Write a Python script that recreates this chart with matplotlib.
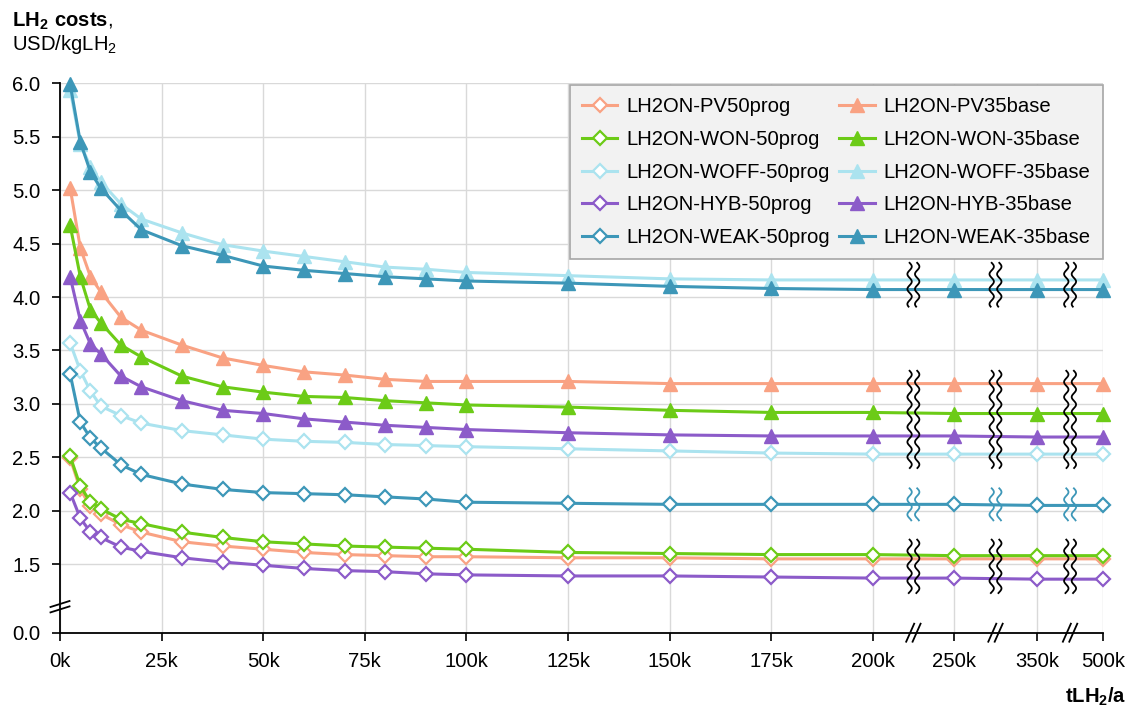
import numpy as np
import matplotlib
matplotlib.use("Agg")
from matplotlib import pyplot as plt
from matplotlib.lines import Line2D

plt.rcParams['font.family'] = ['Liberation Sans', 'DejaVu Sans']
plt.rcParams['mathtext.fontset'] = 'custom'
plt.rcParams['mathtext.rm'] = 'Liberation Sans'
plt.rcParams['mathtext.bf'] = 'Liberation Sans:bold'

# data, USD/kgLH2
x_vals = [2500, 5000, 7500, 10000, 15000, 20000, 30000, 40000, 50000, 60000, 70000,
          80000, 90000, 100000, 125000, 150000, 175000, 200000, 250000, 350000, 500000]

pv50 = [2.49, 2.20, 2.04, 1.97, 1.87, 1.80, 1.71, 1.67, 1.64, 1.61, 1.59, 1.58, 1.57, 1.57, 1.56, 1.56, 1.55, 1.55, 1.55, 1.55, 1.55]
won50 = [2.51, 2.23, 2.08, 2.02, 1.92, 1.88, 1.80, 1.75, 1.71, 1.69, 1.67, 1.66, 1.65, 1.64, 1.61, 1.60, 1.59, 1.59, 1.58, 1.58, 1.58]
woff50 = [3.57, 3.31, 3.12, 2.98, 2.89, 2.82, 2.75, 2.71, 2.67, 2.65, 2.64, 2.62, 2.61, 2.60, 2.58, 2.56, 2.54, 2.53, 2.53, 2.53, 2.53]
hyb50 = [2.17, 1.93, 1.80, 1.75, 1.66, 1.62, 1.56, 1.52, 1.49, 1.46, 1.44, 1.43, 1.41, 1.40, 1.39, 1.39, 1.38, 1.37, 1.37, 1.36, 1.36]
weak50 = [3.28, 2.83, 2.68, 2.59, 2.43, 2.34, 2.25, 2.20, 2.17, 2.16, 2.15, 2.13, 2.11, 2.08, 2.07, 2.06, 2.06, 2.06, 2.06, 2.05, 2.05]
pv35 = [5.02, 4.46, 4.19, 4.05, 3.81, 3.69, 3.55, 3.43, 3.36, 3.30, 3.27, 3.23, 3.21, 3.21, 3.21, 3.19, 3.19, 3.19, 3.19, 3.19, 3.19]
won35 = [4.67, 4.19, 3.88, 3.76, 3.55, 3.44, 3.26, 3.16, 3.11, 3.07, 3.06, 3.03, 3.01, 2.99, 2.97, 2.94, 2.92, 2.92, 2.91, 2.91, 2.91]
woff35 = [5.94, 5.43, 5.22, 5.08, 4.87, 4.73, 4.60, 4.49, 4.43, 4.38, 4.33, 4.28, 4.26, 4.23, 4.20, 4.17, 4.16, 4.16, 4.16, 4.16, 4.16]
hyb35 = [4.19, 3.78, 3.56, 3.47, 3.26, 3.16, 3.03, 2.94, 2.91, 2.86, 2.83, 2.80, 2.78, 2.76, 2.73, 2.71, 2.70, 2.70, 2.70, 2.69, 2.69]
weak35 = [5.99, 5.45, 5.17, 5.02, 4.81, 4.63, 4.48, 4.39, 4.29, 4.25, 4.22, 4.19, 4.17, 4.15, 4.13, 4.10, 4.08, 4.07, 4.07, 4.07, 4.07]

series = [
    ('LH2ON-PV50prog', pv50, '#F9A283', 'D'),
    ('LH2ON-WON-50prog', won50, '#6CCB17', 'D'),
    ('LH2ON-WOFF-50prog', woff50, '#ABE3EF', 'D'),
    ('LH2ON-HYB-50prog', hyb50, '#8C5BC9', 'D'),
    ('LH2ON-WEAK-50prog', weak50, '#3D97B8', 'D'),
    ('LH2ON-PV35base', pv35, '#F9A283', '^'),
    ('LH2ON-WON-35base', won35, '#6CCB17', '^'),
    ('LH2ON-WOFF-35base', woff35, '#ABE3EF', '^'),
    ('LH2ON-HYB-35base', hyb35, '#8C5BC9', '^'),
    ('LH2ON-WEAK-35base', weak35, '#3D97B8', '^'),
]

x_ticks = [0, 25000, 50000, 75000, 100000, 125000, 150000, 175000, 200000, 250000, 350000, 500000]
x_labels = ['0k', '25k', '50k', '75k', '100k', '125k', '150k', '175k', '200k', '250k', '350k', '500k']
y_ticks = [0.0, 1.5, 2.0, 2.5, 3.0, 3.5, 4.0, 4.5, 5.0, 5.5, 6.0]


def piecewise(xp, fp):
    xp = np.asarray(xp, float)
    fp = np.asarray(fp, float)

    def f(v):
        v = np.asarray(v, float)
        out = np.interp(v, xp, fp)
        out = np.where(v < xp[0], fp[0] + (v - xp[0]) * (fp[1] - fp[0]) / (xp[1] - xp[0]), out)
        out = np.where(v > xp[-1], fp[-1] + (v - xp[-1]) * (fp[-1] - fp[-2]) / (xp[-1] - xp[-2]), out)
        return out
    return f


# broken axes: x is linear up to 200k then compressed, y is cut below ~1.2
xb = [0, 200000, 250000, 350000, 500000]
xs = [0, 200, 219.9, 240.4, 256.6]
yb = [0, 1.2, 6.0]
ys = [0.859, 1.2, 6.0]

W, H = 1135, 711
fig = plt.figure(figsize=(W / 100, H / 100), dpi=100)
ax_l, ax_r, ax_t, ax_b = 60, 1103, 83.3, 632.7
ax = fig.add_axes([ax_l / W, 1 - ax_b / H, (ax_r - ax_l) / W, (ax_b - ax_t) / H])

ax.set_xscale('function', functions=(piecewise(xb, xs), piecewise(xs, xb)))
ax.set_yscale('function', functions=(piecewise(yb, ys), piecewise(ys, yb)))

for name, vals, col, mk in series:
    if mk == 'D':
        ax.plot(x_vals, vals, color=col, lw=2.2, marker='D', ms=7, mfc='white',
                mec=col, mew=1.6, label=name, clip_on=False, zorder=3)
    else:
        ax.plot(x_vals, vals, color=col, lw=2.2, marker='^', ms=9.5, mfc=col,
                mec=col, label=name, clip_on=False, zorder=3)

ax.set_xlim(0, 500000)
ax.set_ylim(0, 6.0)
ax.set_xticks(x_ticks)
ax.set_xticklabels(x_labels)
ax.set_yticks(y_ticks)
ax.set_yticklabels(['%.1f' % t for t in y_ticks])
ax.minorticks_off()
ax.tick_params(axis='both', labelsize=14.6, length=6, width=1.2, color='black')
ax.tick_params(axis='y', pad=8)
ax.tick_params(axis='x', pad=8)
ax.grid(True, color='#D9D9D9', lw=1.0, zorder=0)
ax.set_axisbelow(True)
for s in ['top', 'right']:
    ax.spines[s].set_visible(False)
for s in ['left', 'bottom']:
    ax.spines[s].set_linewidth(1.3)

leg = ax.legend(ncol=2, loc='upper right', bbox_to_anchor=(1.0, 0.997), fontsize=14.6,
                frameon=True, fancybox=False, framealpha=1, facecolor='#F2F2F2',
                edgecolor='#A6A6A6', handlelength=1.75, handletextpad=0.45,
                labelspacing=0.68, columnspacing=0.45, borderpad=0.6, borderaxespad=0)
leg.get_frame().set_linewidth(1.2)
leg.set_zorder(5)


# break marks, drawn in pixel positions of the figure
def px(x, y):
    return x / W, 1 - y / H


def xs_to_px(s):
    return ax_l + s / xs[-1] * (ax_r - ax_l)


def ys_to_px(s):
    return ax_b - (s - ys[0]) / (ys[-1] - ys[0]) * (ax_b - ax_t)


break_x = [xs_to_px((xs[i] + xs[i + 1]) / 2) for i in range(1, 4)]

# wavy marks inside the plot: (scaled y top, scaled y bottom, colour)
wave_groups = [(4.32, 3.91, 'black'), (3.31, 2.40, 'black'),
               (2.21, 1.91, '#3D97B8'), (1.73, 1.23, 'black')]
for bx in break_x:
    for top, bot, col in wave_groups:
        yy = np.linspace(ys_to_px(top), ys_to_px(bot), 120)
        for off in (-3.8, 3.8):
            xx = bx + off + 2.2 * np.sin((yy - yy[0]) / 15.0 * 2 * np.pi)
            p = [px(a, b) for a, b in zip(xx, yy)]
            fig.add_artist(Line2D([q[0] for q in p], [q[1] for q in p], color=col,
                                  lw=1.3, transform=fig.transFigure, zorder=6))
    # slashes on the x axis
    for off in (-3.2, 3.2):
        x0, y0 = px(bx + off - 4, ax_b + 9)
        x1, y1 = px(bx + off + 4, ax_b - 9)
        fig.add_artist(Line2D([x0, x1], [y0, y1], color='black', lw=1.3,
                              transform=fig.transFigure, zorder=6))

# slashes on the y axis
for off in (-2.7, 2.7):
    x0, y0 = px(ax_l - 9.5, 606.7 + off + 3)
    x1, y1 = px(ax_l + 9.5, 606.7 + off - 3)
    fig.add_artist(Line2D([x0, x1], [y0, y1], color='black', lw=1.3,
                          transform=fig.transFigure, zorder=6))

fig.text(12 / W, 1 - 27 / H, r'$\mathbf{LH_2\ costs}$,', fontsize=14.6, va='baseline', ha='left')
fig.text(12 / W, 1 - 50 / H, r'USD/kgLH$_2$', fontsize=14.6, va='baseline', ha='left')
fig.text(1126 / W, 1 - 703 / H, r'$\mathbf{tLH_2/a}$', fontsize=14.6, va='baseline', ha='right')

fig.savefig('out.png', dpi=100)
